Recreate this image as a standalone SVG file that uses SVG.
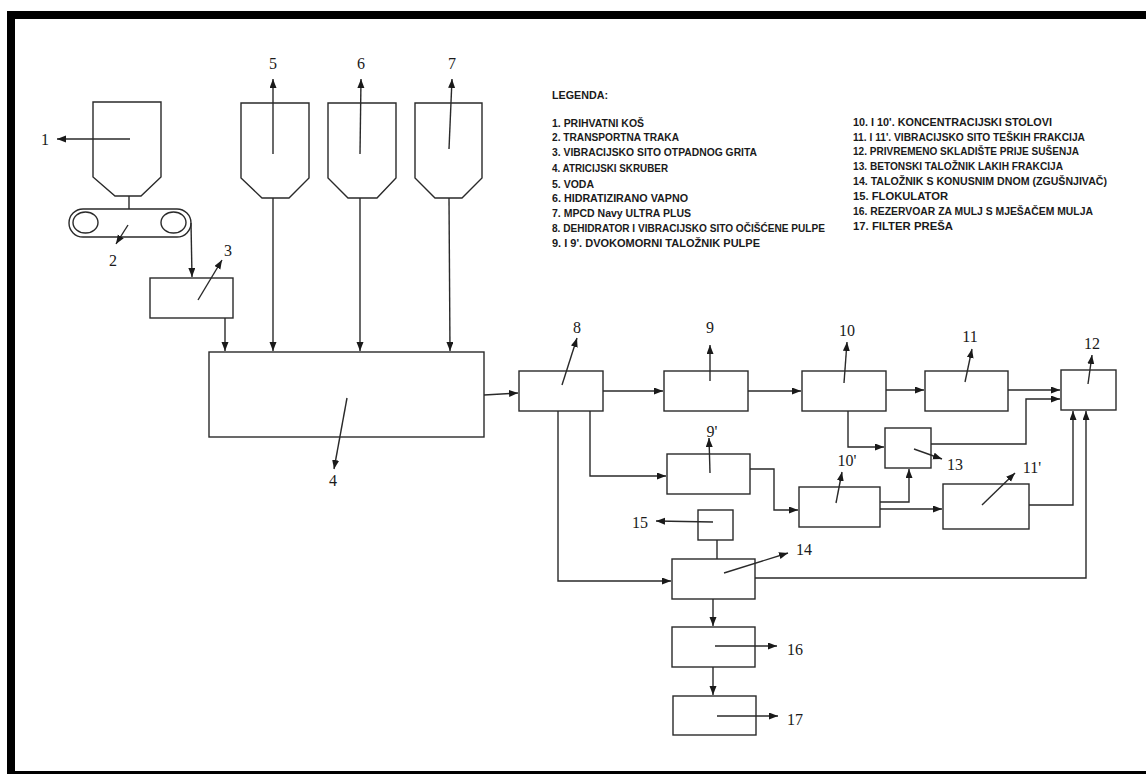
<svg xmlns="http://www.w3.org/2000/svg" width="1146" height="774" viewBox="0 0 1146 774">
<defs>
<marker id="ah" markerUnits="userSpaceOnUse" markerWidth="10" markerHeight="8" refX="9" refY="3.5" orient="auto">
<path d="M0,0 L9,3.5 L0,7 z" fill="#1a1a1a"/>
</marker>
<style>
.b{fill:#fff;stroke:#2a2a2a;stroke-width:1.4}
.c{fill:none;stroke:#2a2a2a;stroke-width:1.4}
.a{fill:none;stroke:#2a2a2a;stroke-width:1.4;marker-end:url(#ah)}
.n{font-family:"Liberation Serif",serif;font-size:16px;fill:#1a1a1a;text-anchor:middle}
.l{font-family:"Liberation Sans",sans-serif;font-size:10px;font-weight:bold;fill:#1a1a1a}
</style>
</defs>
<rect width="1146" height="774" fill="#fff"/>
<g id="frame" fill="#000">
<rect x="7" y="11" width="1139" height="8"/>
<rect x="7" y="11" width="8" height="763"/>
<rect x="7" y="771" width="1139" height="3"/>
</g>
<g id="legend">
<text class="l" x="552" y="99" textLength="56" lengthAdjust="spacingAndGlyphs">LEGENDA:</text>
<text class="l" x="552" y="127" textLength="92" lengthAdjust="spacingAndGlyphs">1. PRIHVATNI KOŠ</text>
<text class="l" x="552" y="141" textLength="127" lengthAdjust="spacingAndGlyphs">2. TRANSPORTNA TRAKA</text>
<text class="l" x="552" y="156" textLength="205" lengthAdjust="spacingAndGlyphs">3. VIBRACIJSKO SITO OTPADNOG GRITA</text>
<text class="l" x="552" y="172" textLength="116" lengthAdjust="spacingAndGlyphs">4. ATRICIJSKI SKRUBER</text>
<text class="l" x="552" y="188" textLength="42" lengthAdjust="spacingAndGlyphs">5. VODA</text>
<text class="l" x="552" y="202" textLength="136" lengthAdjust="spacingAndGlyphs">6. HIDRATIZIRANO VAPNO</text>
<text class="l" x="552" y="217" textLength="139" lengthAdjust="spacingAndGlyphs">7. MPCD Navy ULTRA PLUS</text>
<text class="l" x="552" y="232" textLength="273" lengthAdjust="spacingAndGlyphs">8. DEHIDRATOR I VIBRACIJSKO SITO OČIŠĆENE PULPE</text>
<text class="l" x="552" y="247" textLength="208" lengthAdjust="spacingAndGlyphs">9. I 9'. DVOKOMORNI TALOŽNIK PULPE</text>
<text class="l" x="853" y="126" textLength="199" lengthAdjust="spacingAndGlyphs">10. I 10'. KONCENTRACIJSKI STOLOVI</text>
<text class="l" x="853" y="141" textLength="232" lengthAdjust="spacingAndGlyphs">11. I 11'. VIBRACIJSKO SITO TEŠKIH FRAKCIJA</text>
<text class="l" x="853" y="155" textLength="226" lengthAdjust="spacingAndGlyphs">12. PRIVREMENO SKLADIŠTE PRIJE SUŠENJA</text>
<text class="l" x="853" y="170" textLength="210" lengthAdjust="spacingAndGlyphs">13. BETONSKI TALOŽNIK LAKIH FRAKCIJA</text>
<text class="l" x="853" y="185" textLength="254" lengthAdjust="spacingAndGlyphs">14. TALOŽNIK S KONUSNIM DNOM (ZGUŠNJIVAČ)</text>
<text class="l" x="853" y="200" textLength="95" lengthAdjust="spacingAndGlyphs">15. FLOKULATOR</text>
<text class="l" x="853" y="215" textLength="240" lengthAdjust="spacingAndGlyphs">16. REZERVOAR ZA MULJ S MJEŠAČEM MULJA</text>
<text class="l" x="853" y="230" textLength="100" lengthAdjust="spacingAndGlyphs">17. FILTER PREŠA</text>
</g>
<g id="n1">
<path class="b" d="M93,102 H161 V177 L141,196 H115 L93,177 Z"/>
<line class="a" x1="130" y1="139" x2="57" y2="139"/>
<text class="n" x="45" y="145">1</text>
</g>
<g id="n2">
<rect class="b" x="69" y="209" width="122" height="28" rx="14"/>
<ellipse class="c" cx="85.5" cy="222.5" rx="12.5" ry="10.5"/>
<ellipse class="c" cx="173.5" cy="222.5" rx="12.5" ry="10.5"/>
<line class="c" x1="129" y1="196" x2="129" y2="209"/>
<line class="a" x1="128" y1="225" x2="116" y2="244"/>
<text class="n" x="113" y="266">2</text>
</g>
<g id="n3">
<rect class="b" x="150" y="278" width="83" height="40"/>
<line class="a" x1="198" y1="300" x2="222" y2="260"/>
<text class="n" x="228" y="256">3</text>
</g>
<g id="n5">
<path class="b" d="M241,103 H309 V178 L289,198 H262 L241,178 Z"/>
<line class="a" x1="273" y1="154" x2="273" y2="79"/>
<text class="n" x="273" y="69">5</text>
</g>
<g id="n6">
<path class="b" d="M328,103 H396 V178 L377,198 H348 L328,178 Z"/>
<line class="a" x1="360" y1="154" x2="361" y2="79"/>
<text class="n" x="361" y="69">6</text>
</g>
<g id="n7">
<path class="b" d="M415,103 H482 V178 L462,198 H435 L415,178 Z"/>
<line class="a" x1="449" y1="149" x2="452" y2="79"/>
<text class="n" x="452" y="69">7</text>
</g>
<g id="n4">
<rect class="b" x="209" y="352" width="275" height="85"/>
<line class="a" x1="347" y1="398" x2="334" y2="469"/>
<text class="n" x="333" y="486">4</text>
</g>
<g id="n8">
<rect class="b" x="519" y="371" width="84" height="40"/>
<line class="a" x1="562" y1="385" x2="577" y2="338"/>
<text class="n" x="577" y="333">8</text>
</g>
<g id="n9">
<rect class="b" x="664" y="371" width="84" height="40"/>
<line class="a" x1="710" y1="381" x2="710" y2="345"/>
<text class="n" x="710" y="333">9</text>
</g>
<g id="n9p">
<rect class="b" x="667" y="454" width="83" height="40"/>
<line class="a" x1="710" y1="473" x2="709" y2="438"/>
<text class="n" x="712" y="437">9'</text>
</g>
<g id="n10">
<rect class="b" x="802" y="371" width="84" height="40"/>
<line class="a" x1="844" y1="383" x2="847" y2="342"/>
<text class="n" x="847" y="336">10</text>
</g>
<g id="n10p">
<rect class="b" x="799" y="487" width="81" height="40"/>
<line class="a" x1="836" y1="503" x2="842" y2="472"/>
<text class="n" x="847" y="466">10'</text>
</g>
<g id="n11">
<rect class="b" x="925" y="371" width="83" height="40"/>
<line class="a" x1="965" y1="382" x2="972" y2="349"/>
<text class="n" x="970" y="342">11</text>
</g>
<g id="n11p">
<rect class="b" x="943" y="484" width="86" height="45"/>
<line class="a" x1="982" y1="505" x2="1015" y2="473"/>
<text class="n" x="1032" y="473">11'</text>
</g>
<g id="n12">
<rect class="b" x="1061" y="370" width="55" height="40"/>
<line class="a" x1="1088" y1="384" x2="1092" y2="355"/>
<text class="n" x="1092" y="349">12</text>
</g>
<g id="n13">
<rect class="b" x="885" y="428" width="46" height="40"/>
<line class="a" x1="914" y1="449" x2="942" y2="459"/>
<text class="n" x="955" y="470">13</text>
</g>
<g id="n14">
<rect class="b" x="672" y="559" width="83" height="40"/>
<line class="a" x1="724" y1="573" x2="788" y2="553"/>
<text class="n" x="804" y="555">14</text>
</g>
<g id="n15">
<rect class="b" x="698" y="510" width="35" height="30"/>
<line class="a" x1="713" y1="522" x2="656" y2="521"/>
<text class="n" x="640" y="528">15</text>
</g>
<g id="n16">
<rect class="b" x="672" y="627" width="83" height="40"/>
<line class="a" x1="715" y1="646" x2="777" y2="646"/>
<text class="n" x="795" y="655">16</text>
</g>
<g id="n17">
<rect class="b" x="673" y="696" width="83" height="39"/>
<line class="a" x1="717" y1="716" x2="778" y2="716"/>
<text class="n" x="795" y="725">17</text>
</g>
<g id="connectors">
<polyline class="a" points="191,223 192,277"/>
<polyline class="a" points="225,318 225,351"/>
<polyline class="a" points="273,198 273,351"/>
<polyline class="a" points="360,198 360,351"/>
<polyline class="a" points="449,198 450,351"/>
<polyline class="a" points="484,395 518,393"/>
<polyline class="a" points="603,391 663,391"/>
<polyline class="a" points="748,391 801,391"/>
<polyline class="a" points="886,390 924,390"/>
<polyline class="a" points="1008,390 1060,390"/>
<polyline class="a" points="848,411 848,447 884,447"/>
<polyline class="a" points="931,444 1026,444 1026,399 1060,399"/>
<polyline class="a" points="590,411 590,476 666,476"/>
<polyline class="a" points="750,469 774,469 774,510 798,510"/>
<polyline class="a" points="880,502 909,502 909,469"/>
<polyline class="a" points="880,509 942,509"/>
<polyline class="a" points="1029,505 1073,505 1073,411"/>
<polyline class="a" points="558,411 558,581 671,581"/>
<polyline class="c" points="717,540 717,559"/>
<polyline class="a" points="755,578 1086,578 1086,411"/>
<polyline class="a" points="713,599 713,626"/>
<polyline class="a" points="713,667 713,695"/>
</g>
</svg>
